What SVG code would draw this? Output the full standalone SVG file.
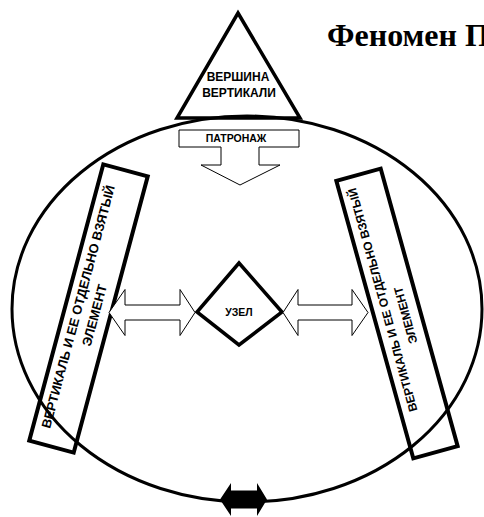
<svg xmlns="http://www.w3.org/2000/svg" width="484" height="517" viewBox="0 0 484 517">
<style>
.lbl{font-family:"Liberation Sans",Arial,sans-serif;font-weight:bold;fill:#000;text-anchor:middle}
.thick{fill:none;stroke:#000;stroke-width:4;stroke-linejoin:miter}
.arrow{fill:#fff;stroke:#000;stroke-width:1}
</style>
<rect width="484" height="517" fill="#fff"/>
<text x="327" y="46" style="font-family:'Liberation Serif','Times New Roman',serif;font-weight:bold;font-size:32px">Феномен П</text>
<g id="vertex">
<polygon points="238,13 300,118 177,118" fill="#fff" stroke="#000" stroke-width="3.5"/>
<text class="lbl" x="238" y="81" font-size="12">ВЕРШИНА</text>
<text class="lbl" x="239" y="97" font-size="12">ВЕРТИКАЛИ</text>
</g>
<g id="whole">
<ellipse cx="247" cy="309" rx="235" ry="193" fill="none" stroke="#000" stroke-width="3"/>
</g>
<g id="left-vertical" transform="translate(88.5,308.5) rotate(15)">
<rect class="thick" x="-23" y="-143" width="46" height="286"/>
<g transform="rotate(-90)" font-size="13" xml:space="preserve">
<text class="lbl" x="-1" y="-6">ВЕРТИКАЛЬ И ЕЕ ОТДЕЛЬНО  ВЗЯТЫЙ</text>
<text class="lbl" x="-5" y="12">ЭЛЕМЕНТ</text>
</g>
</g>
<g id="right-vertical" transform="translate(397,313.5) rotate(-15.5)">
<rect class="thick" x="-23" y="-144" width="46" height="288"/>
<g transform="rotate(-90)" font-size="12" xml:space="preserve">
<text class="lbl" x="17" y="-6">ВЕРТИКАЛЬ И ЕЕ ОТДЕЛЬНО  ВЗЯТЫЙ</text>
<text class="lbl" x="-4" y="12">ЭЛЕМЕНТ</text>
</g>
</g>
<g id="node">
<polygon points="239,263 282,312 239,345 197,312" fill="#fff" stroke="#000" stroke-width="3.5"/>
<text class="lbl" x="239" y="316" font-size="10.5">УЗЕЛ</text>
</g>
<g id="connectors">
<g id="patronage">
<path class="arrow" d="M179,130 H299 V147 H259 V165 H280 L240,185 L201,165 H221 V147 H179 Z"/>
<text class="lbl" x="236" y="142" font-size="10.5">ПАТРОНАЖ</text>
</g>
<path class="arrow" d="M109,312.5 L125,289.5 V305 H180 V289.5 L195,312.5 L180,335.5 V320 H125 V335.5 Z"/>
<path class="arrow" d="M283,312.5 L298,289.5 V305 H352 V289.5 L368,312.5 L352,335.5 V320 H298 V335.5 Z"/>
<path fill="#000" d="M220,499.5 L231,483 V490.5 H257 V483 L267,499.5 L257,516 V508.5 H231 V516 Z"/>
</g>
</svg>
